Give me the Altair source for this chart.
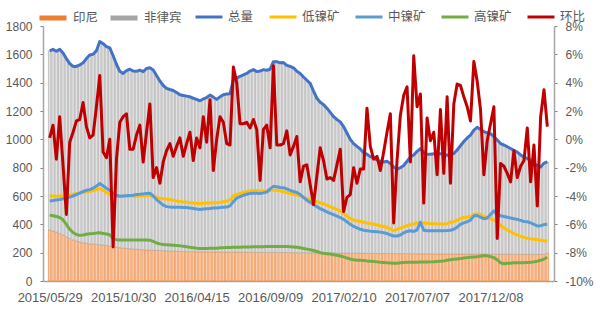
import json
import altair as alt
import pandas as pd

# ---------------- data ----------------
tick_labels = ["2015/05/29", "2015/10/30", "2016/04/15", "2016/09/09",
               "2017/02/10", "2017/07/07", "2017/12/08"]
tick_step = 22  # one label every 22 weekly observations

indonesia = [
    360, 352, 345, 335, 325, 312, 300, 290, 282, 276,
    270, 266, 262, 260, 258, 256, 254, 250, 246, 242,
    238, 235, 232, 230, 228, 226, 224, 222, 220, 219,
    218, 217, 216, 215, 214, 213, 212, 211, 210, 209,
    208, 208, 207, 207, 206, 206, 206, 205, 205, 205,
    205, 205, 204, 204, 204, 204, 204, 204, 203, 203,
    203, 203, 203, 202, 202, 202, 202, 202, 202, 201,
    201, 201, 201, 200, 200, 200, 200, 200, 199, 199,
    199, 199, 198, 198, 198, 198, 197, 197, 197, 197,
    196, 196, 196, 196, 195, 195, 195, 195, 195, 194,
    194, 194, 194, 194, 193, 193, 193, 193, 193, 192,
    192, 192, 192, 192, 192, 191, 191, 191, 191, 191,
    191, 190, 190, 190, 190, 190, 190, 190, 190, 190,
    190, 189, 189, 189, 189, 189, 189, 189, 189, 188,
    188, 188, 188, 188, 188, 188, 188, 188, 188, 195,
]

philippines = [
    1265, 1283, 1277, 1300, 1285, 1258, 1235, 1225, 1233, 1249,
    1270, 1304, 1333, 1340, 1367, 1434, 1421, 1405, 1399, 1348,
    1292, 1245, 1233, 1255, 1267, 1256, 1256, 1266, 1258, 1281,
    1287, 1273, 1234, 1197, 1166, 1147, 1140, 1134, 1120, 1106,
    1102, 1097, 1093, 1083, 1076, 1066, 1079, 1090, 1107, 1093,
    1077, 1095, 1111, 1116, 1118, 1216, 1228, 1241, 1252, 1262,
    1279, 1289, 1275, 1280, 1290, 1286, 1293, 1346, 1346, 1339,
    1341, 1321, 1314, 1305, 1280, 1265, 1240, 1217, 1196, 1141,
    1091, 1063, 1047, 1022, 992, 962, 943, 926, 893, 848,
    804, 774, 754, 736, 710, 700, 683, 673, 660, 651,
    646, 651, 636, 611, 597, 607, 622, 652, 682, 698,
    723, 743, 713, 703, 703, 707, 709, 707, 704, 697,
    704, 710, 735, 765, 795, 820, 840, 875, 895, 880,
    865, 856, 851, 831, 806, 781, 771, 759, 746, 734,
    722, 702, 687, 677, 662, 642, 627, 617, 644, 645,
]

total = [
    1625, 1635, 1622, 1635, 1610, 1570, 1535, 1515, 1515, 1525,
    1540, 1570, 1595, 1600, 1625, 1690, 1675, 1655, 1645, 1590,
    1530, 1480, 1465, 1485, 1495, 1482, 1480, 1488, 1478, 1500,
    1505, 1490, 1450, 1412, 1380, 1360, 1352, 1345, 1330, 1315,
    1310, 1305, 1300, 1290, 1282, 1272, 1285, 1295, 1312, 1298,
    1282, 1300, 1315, 1320, 1322, 1420, 1432, 1445, 1455, 1465,
    1482, 1492, 1478, 1482, 1492, 1488, 1495, 1548, 1548, 1540,
    1542, 1522, 1515, 1505, 1480, 1465, 1440, 1417, 1395, 1340,
    1290, 1262, 1245, 1220, 1190, 1160, 1140, 1123, 1090, 1045,
    1000, 970, 950, 932, 905, 895, 878, 868, 855, 845,
    840, 845, 830, 805, 790, 800, 815, 845, 875, 890,
    915, 935, 905, 895, 895, 898, 900, 898, 895, 888,
    895, 900, 925, 955, 985, 1010, 1030, 1065, 1085, 1070,
    1055, 1045, 1040, 1020, 995, 970, 960, 948, 935, 922,
    910, 890, 875, 865, 850, 830, 815, 805, 832, 840,
]

low = [
    600, 600, 598, 600, 602, 605, 608, 612, 618, 622,
    625, 628, 632, 638, 645, 652, 640, 625, 612, 602,
    598, 596, 598, 600, 600, 598, 598, 600, 602, 604,
    604, 598, 590, 585, 580, 578, 575, 570, 565, 562,
    558, 556, 553, 550, 548, 546, 548, 550, 550, 552,
    552, 555, 560, 565, 570, 600, 610, 618, 625, 630,
    635, 638, 638, 636, 635, 636, 638, 640, 640, 636,
    630, 625, 618, 612, 606, 600, 592, 583, 575, 568,
    560, 552, 545, 535, 525, 515, 505, 495, 478, 460,
    440, 430, 425, 420, 415, 410, 405, 400, 395, 390,
    385, 378, 368, 355, 365, 375, 382, 390, 398, 402,
    410, 412, 410, 408, 405, 404, 403, 402, 400, 405,
    415, 418, 430, 440, 448, 452, 455, 470, 475, 470,
    455, 445, 440, 430, 415, 395, 375, 360, 348, 335,
    325, 315, 308, 302, 298, 295, 292, 288, 284, 280,
]

mid = [
    565, 568, 572, 575, 580, 585, 592, 600, 610, 620,
    632, 640, 645, 655, 670, 688, 672, 655, 640, 620,
    605, 598, 600, 602, 604, 606, 610, 612, 615, 618,
    620, 600, 575, 555, 535, 525, 522, 520, 520, 520,
    518, 518, 516, 512, 508, 505, 508, 510, 512, 515,
    515, 518, 520, 522, 530, 560, 585, 595, 605, 612,
    618, 620, 620, 618, 622, 628, 650, 668, 665, 660,
    658, 650, 640, 632, 625, 610, 590, 570, 555, 538,
    525, 510, 500, 488, 478, 468, 458, 448, 435, 418,
    400, 385, 375, 365, 358, 355, 352, 350, 348, 345,
    340, 335, 325, 318, 318, 325, 340, 350, 355, 350,
    360, 415, 358, 355, 355, 355, 355, 354, 355, 356,
    358, 365, 380, 400, 410, 418, 430, 460, 462, 450,
    440, 445, 470, 495, 470, 460, 455, 450, 445, 440,
    435, 428, 420, 418, 410, 400, 388, 390, 398, 400,
]

high = [
    465, 460, 455, 448, 432, 400, 365, 342, 328, 322,
    325, 330, 333, 335, 338, 340, 336, 332, 326, 298,
    292, 290, 290, 290, 290, 290, 290, 290, 290, 290,
    288, 280, 268, 262, 258, 256, 254, 252, 250, 248,
    245, 242, 238, 235, 232, 230, 230, 230, 231, 232,
    232, 234, 235, 236, 237, 238, 238, 239, 240, 240,
    240, 241, 241, 242, 242, 243, 243, 243, 243, 243,
    243, 243, 242, 240, 238, 235, 230, 225, 220, 215,
    208, 200, 196, 193, 190, 186, 182, 176, 170, 162,
    155, 150, 147, 146, 145, 142, 140, 138, 135, 132,
    130, 128, 127, 126, 126, 128, 130, 132, 133, 132,
    132, 135, 134, 134, 135, 136, 138, 140, 142, 146,
    150, 153, 156, 158, 162, 165, 168, 170, 172, 175,
    180, 178, 172, 165, 150, 128, 122, 125, 126, 128,
    128, 128, 128, 130, 132, 135, 140, 146, 155, 168,
]

# week-on-week change, in percent
mom = [
    0.1, 1.0, -1.4, 1.6, -1.8, -5.3, -0.2, 0.5, 1.3, 1.4,
    2.6, 0.9, 0.1, 0.3, 2.3, 4.5, -0.9, -1.3, 0.0, -7.6,
    -1.4, 1.2, 1.6, 1.8, -0.7, -0.7, 0.3, 1.0, -1.6, 0.5,
    2.5, -2.7, -2.0, -3.1, -1.6, -0.8, -0.3, -1.2, -0.5, 0.1,
    -1.2, -0.3, 0.5, -1.5, 0.1, -0.6, 1.6, -0.2, 2.8, -2.2,
    0.0, 1.6, 1.2, -0.3, -0.4, 5.1, 4.0, 1.1, 1.1, 1.2,
    0.8, 1.4, 0.7, -2.9, 0.7, 1.0, -0.6, 5.2, -0.4, -0.4,
    -0.3, 0.6, -1.1, -0.5, 0.2, -3.0, -1.9, -1.8, -3.2, -4.6,
    -2.6, -0.6, -1.5, -2.8, -2.7, -2.9, -1.8, -0.7, -5.1, -4.1,
    -3.9, -2.0, -3.1, -2.1, -2.1, 2.2, -0.5, -1.4, -1.2, -2.2,
    -0.9, 0.5, 1.8, -5.9, -1.5, 1.7, 3.1, 3.7, -1.6, 5.9,
    2.3, 3.2, -4.5, 1.5, -0.1, 0.5, -2.5, 2.1, -2.4, 3.0,
    -3.1, 2.5, 3.9, 3.8, 3.0, 2.3, 1.3, 5.5, 4.1, 2.1,
    -2.5, -0.1, 1.1, 2.3, -7.0, -1.7, -1.9, -2.4, -3.0, -0.8,
    -2.7, -1.9, -1.5, 0.8, -3.0, -0.4, -4.7, 1.6, 3.5, 0.9,
]

bar_names = ["印尼", "非律宾"]
line_names = ["总量", "低镍矿", "中镍矿", "高镍矿", "环比"]

# ---------------- tables ----------------
n = len(total)
week = list(range(n))

bar_series = [bar_names[0]] * n + [bar_names[1]] * n
bar_df = pd.DataFrame({
    "week": week * 2,
    "series": bar_series,
    "shade": bar_series,
    "value": indonesia + philippines,
    "ord": [0] * n + [1] * n,
})

line_df = pd.concat([
    pd.DataFrame({"week": week, "series": name, "value": vals})
    for name, vals in zip(line_names[:4], [total, low, mid, high])
])
mom_df = pd.DataFrame({"week": week, "series": line_names[4], "value": mom})

# ---------------- styling ----------------
FONT = "Liberation Sans"
CJK = "Noto Sans CJK SC"
LABEL = "#595959"
AXIS = "#a6a6a6"

x_enc = alt.X(
    "week:Q",
    scale=alt.Scale(domain=[-0.5, n - 0.5], nice=False, zero=False),
    axis=alt.Axis(
        values=[i * tick_step for i in range(len(tick_labels))],
        labelExpr=f"{json.dumps(tick_labels)}[round(datum.value / {tick_step})]",
        title=None, grid=False, ticks=False, labelPadding=10,
        labelFont=FONT, labelFontSize=13, labelColor=LABEL,
        domainColor=AXIS, domainWidth=1.5, labelFlush=False,
    ),
)

left_scale = alt.Scale(domain=[0, 1800], nice=False, zero=True)

color_scale = alt.Scale(
    domain=line_names,
    range=["#4472C4", "#FFC000", "#5B9BD5", "#70AD47", "#C00000"],
)

legend_common = dict(
    title=None, orient="none", direction="horizontal", gridAlign="none",
    symbolSize=729, labelOffset=4, labelFont=CJK,
    labelFontSize=12.5, labelColor=LABEL, padding=0, legendY=-24,
)

bars = alt.Chart(bar_df).mark_bar(size=2.5, strokeWidth=0.6).encode(
    x=x_enc,
    y=alt.Y(
        "value:Q", stack="zero", scale=left_scale,
        axis=alt.Axis(
            values=list(range(0, 1801, 200)), format="d", title=None, grid=False,
            tickSize=3, tickColor="#808080", labelPadding=8,
            labelFont=FONT, labelFontSize=12, labelColor=LABEL,
            domainColor=AXIS, domainWidth=1.5,
        ),
    ),
    # pale bar bodies (data-driven domain, so this scale is not merged with the legend one)
    fill=alt.Fill(
        "shade:N",
        scale=alt.Scale(range=["#F9CDAE", "#E2E2E2"]),
        legend=None,
    ),
    stroke=alt.Stroke(
        "series:N",
        scale=alt.Scale(domain=bar_names, range=["#ED7D31", "#A5A5A5"]),
        legend=alt.Legend(
            legendX=-6, columns=2, columnPadding=1, symbolType="stroke",
            symbolStrokeWidth=5, **legend_common,
        ),
    ),
    order=alt.Order("ord:Q"),
)

lines = alt.Chart(line_df).mark_line(strokeWidth=3, strokeJoin="round").encode(
    x=x_enc,
    y=alt.Y("value:Q", scale=left_scale, axis=None),
    color=alt.Color(
        "series:N", scale=color_scale,
        legend=alt.Legend(
            legendX=151, columns=5, columnPadding=9, symbolType="stroke",
            symbolStrokeWidth=3, **legend_common,
        ),
    ),
    detail="series:N",
)

red = alt.Chart(mom_df).mark_line(strokeWidth=3, strokeJoin="round").encode(
    x=x_enc,
    y=alt.Y(
        "value:Q",
        scale=alt.Scale(domain=[-10, 8], nice=False, zero=False),
        axis=alt.Axis(
            orient="right", values=list(range(-10, 9, 2)),
            labelExpr="datum.value + '%'", title=None, grid=False,
            tickSize=3, tickColor="#808080", labelPadding=8,
            labelFont=FONT, labelFontSize=12, labelColor=LABEL,
            domainColor=AXIS, domainWidth=1.5,
        ),
    ),
    color=alt.Color("series:N", scale=color_scale),
)

chart = (
    alt.layer(bars, lines, red)
    .resolve_scale(y="independent")
    .properties(
        width=511, height=255,
        padding={"left": 43, "top": 26, "right": 46, "bottom": 32},
        autosize=alt.AutoSizeParams(type="none"),
        background="white",
    )
    .configure_view(stroke=None)
)

chart.save("out.html", embed_options={"renderer": "svg", "actions": False})
